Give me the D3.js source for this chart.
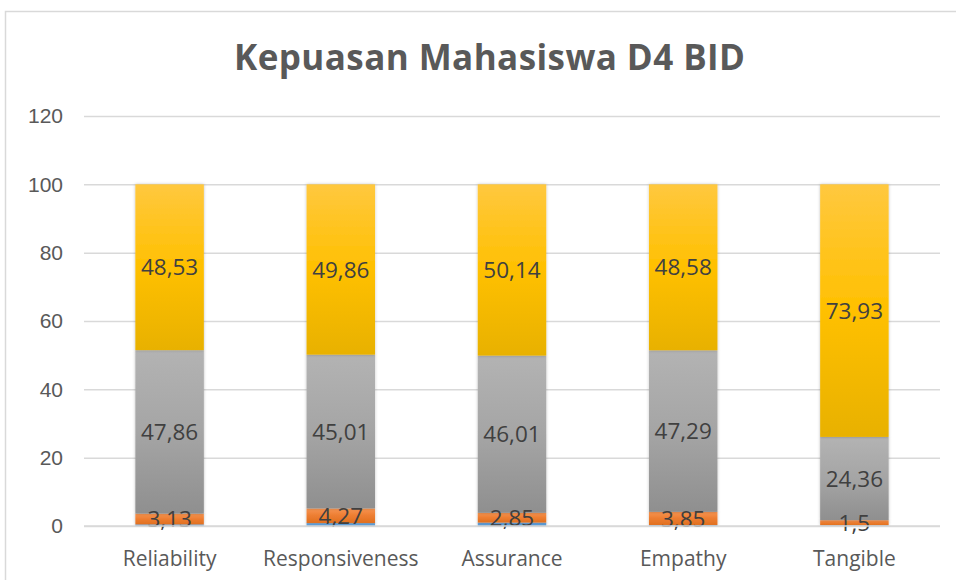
<!DOCTYPE html>
<html>
<head>
<meta charset="utf-8">
<script src="https://cdn.jsdelivr.net/npm/d3@7"></script>
<style>
  html, body { margin: 0; padding: 0; background: #fff; }
  svg { display: block; font-family: "Open Sans", sans-serif; }
</style>
</head>
<body>
<div class="chart"></div>
<script>
const categories = ["Reliability", "Responsiveness", "Assurance", "Empathy", "Tangible"];
const blueVals   = [0.48, 0.86, 1.00, 0.28, 0.21];
const orangeVals = [3.13, 4.27, 2.85, 3.85, 1.5];
const grayVals   = [47.86, 45.01, 46.01, 47.29, 24.36];
const yellowVals = [48.53, 49.86, 50.14, 48.58, 73.93];
const yTicks = [0, 20, 40, 60, 80, 100, 120];
const title = "Kepuasan Mahasiswa D4 BID";

const keys = ["blue", "orange", "gray", "yellow"];
const rows = categories.map((c, i) => ({
  cat: c, blue: blueVals[i], orange: orangeVals[i], gray: grayVals[i], yellow: yellowVals[i]
}));

const totalWidth = 956, totalHeight = 580;
const margin = {top: 116, right: 16, bottom: 54, left: 84};

const svg = d3.select('.chart').append('svg')
  .attr('width', totalWidth).attr('height', totalHeight);

const defs = svg.append('defs');
const grads = {
  blue:   ["#6fa3dc", "#5b9bd5", "#4a88c2"],
  orange: ["#f79552", "#ed7d31", "#e0701f"],
  gray:   ["#b3b3b3", "#a5a5a5", "#8f8f8f"],
  yellow: ["#ffc83f", "#ffc000", "#e8b100"]
};
keys.forEach(k => {
  const g = defs.append('linearGradient').attr('id', 'g-' + k)
    .attr('x1', 0).attr('y1', 0).attr('x2', 0).attr('y2', 1);
  g.append('stop').attr('offset', '0%').attr('stop-color', grads[k][0]);
  g.append('stop').attr('offset', '50%').attr('stop-color', grads[k][1]);
  g.append('stop').attr('offset', '100%').attr('stop-color', grads[k][2]);
});
const shadow = defs.append('filter').attr('id', 'shadow')
  .attr('x', '-20%').attr('y', '-5%').attr('width', '140%').attr('height', '110%');
shadow.append('feDropShadow').attr('dx', 0).attr('dy', 0).attr('stdDeviation', 1.5)
  .attr('flood-color', '#000').attr('flood-opacity', 0.25);

// frame
svg.append('rect')
  .attr('x', 5.5).attr('y', 11.5)
  .attr('width', totalWidth + 20).attr('height', totalHeight + 20)
  .attr('fill', 'none').attr('stroke', '#d9d9d9').attr('stroke-width', 1.5);

const x = d3.scaleBand()
  .domain(categories)
  .range([margin.left, totalWidth - margin.right])
  .paddingInner(0.6).paddingOuter(0.3);

const y = d3.scaleLinear()
  .domain([0, 120])
  .range([totalHeight - margin.bottom, margin.top]);

// gridlines + y labels
svg.append('g')
  .attr('transform', `translate(${margin.left},0)`)
  .call(d3.axisLeft(y).tickValues(yTicks).tickSize(0).tickPadding(21))
  .call(g => g.select('.domain').remove())
  .call(g => g.selectAll('.tick text')
    .attr('fill', '#595959').attr('font-size', '21px'))
  .call(g => g.selectAll('.tick line').clone()
    .attr('x2', totalWidth - margin.left - margin.right)
    .attr('stroke', '#d9d9d9').attr('stroke-width', 1.5));

const stack = d3.stack().keys(keys)(rows);

const layers = svg.append('g').selectAll('g')
  .data(stack)
  .join('g')
    .attr('fill', d => `url(#g-${d.key})`);

layers.selectAll('rect')
  .data(d => d)
  .join('rect')
    .attr('x', d => x(d.data.cat))
    .attr('width', x.bandwidth())
    .attr('y', d => y(d[1]))
    .attr('height', d => y(d[0]) - y(d[1]))
    .attr('filter', 'url(#shadow)');

// data labels (orange, gray, yellow)
stack.filter(s => s.key !== 'blue').forEach(s => {
  svg.append('g').selectAll('text')
    .data(s)
    .join('text')
      .attr('x', d => x(d.data.cat) + x.bandwidth() / 2)
      .attr('y', d => y((d[0] + d[1]) / 2))
      .attr('dy', '0.36em')
      .attr('text-anchor', 'middle')
      .attr('fill', '#404040')
      .attr('font-size', '22.5px')
      .text(d => String(d.data[s.key]).replace('.', ','));
});

// x axis line
svg.append('line')
  .attr('x1', margin.left).attr('x2', totalWidth - margin.right)
  .attr('y1', y(0)).attr('y2', y(0))
  .attr('stroke', '#d9d9d9').attr('stroke-width', 1.5);

// category labels
svg.append('g').selectAll('text')
  .data(categories)
  .join('text')
    .attr('x', d => x(d) + x.bandwidth() / 2)
    .attr('y', y(0) + 32)
    .attr('dy', '0.36em')
    .attr('text-anchor', 'middle')
    .attr('fill', '#595959')
    .attr('font-size', '21px')
    .text(d => d);

svg.append('text')
  .attr('x', 234)
  .attr('y', 70)
  .attr('fill', '#595959')
  .attr('font-size', '35px')
  .attr('font-weight', 'bold')
  .attr('textLength', 511)
  .attr('lengthAdjust', 'spacing')
  .text(title);
</script>
</body>
</html>
